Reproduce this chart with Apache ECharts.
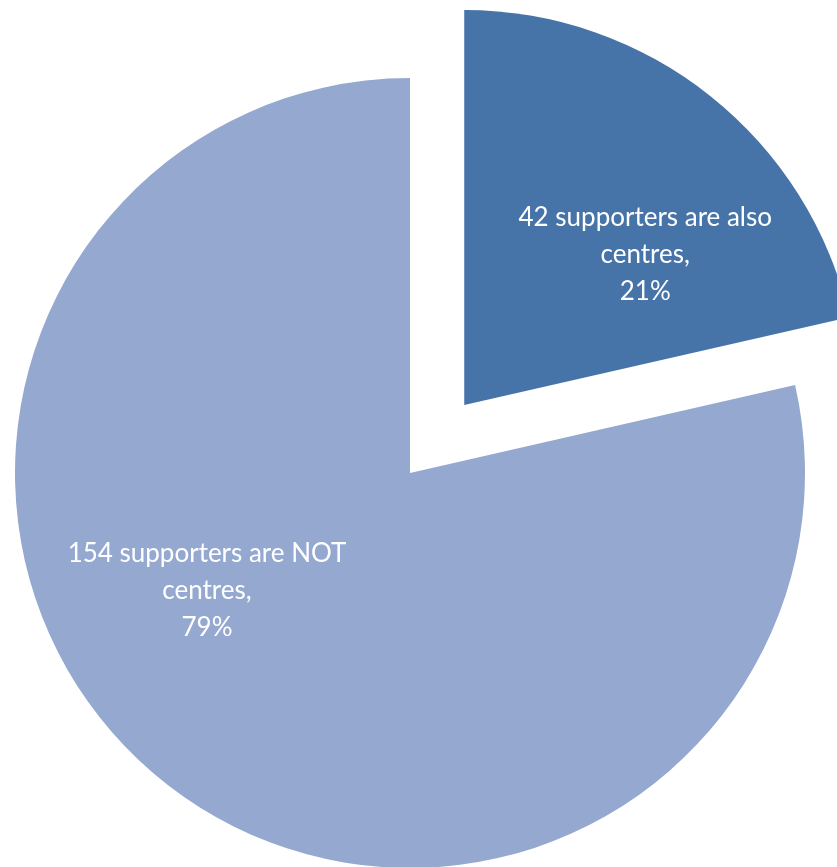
<!DOCTYPE html>
<html>
<head>
<meta charset="utf-8">
<script src="https://cdn.jsdelivr.net/npm/echarts@6/dist/echarts.min.js"></script>
<style>
html,body{margin:0;padding:0;background:#fff;}
#chart{width:837px;height:867px;}
</style>
</head>
<body>
<div id="chart"></div>
<script>
var categories = ['42 supporters are also\ncentres,', '154 supporters are NOT\ncentres,'];
var values = [42, 154];
var colors = ['#4673A8', '#95A8CF'];
var labelShifts = [[56, 6], [-78, -39]];

var chart = echarts.init(document.getElementById('chart'), null, {renderer: 'canvas'});
var data = categories.map(function (c, i) {
  return {
    name: c,
    value: values[i],
    selected: i === 0,
    itemStyle: {color: colors[i]},
    label: {offset: labelShifts[i]},
    select: {label: {offset: labelShifts[i]}, itemStyle: {color: colors[i]}}
  };
});
chart.setOption({
  animation: false,
  series: [{
    type: 'pie',
    center: [410, 473],
    radius: [0, 395],
    startAngle: 90,
    clockwise: true,
    selectedMode: 'single',
    selectedOffset: 87,
    data: data,
    itemStyle: {borderWidth: 0},
    emphasis: {disabled: true},
    label: {
      show: true,
      position: 'inside',
      color: '#ffffff',
      fontFamily: 'Lato',
      fontSize: 26,
      lineHeight: 37,
      align: 'center',
      verticalAlign: 'middle',
      formatter: function (p) { return p.name + '\n' + Math.round(p.percent) + '%'; }
    },
    labelLine: {show: false}
  }]
});
</script>
</body>
</html>
